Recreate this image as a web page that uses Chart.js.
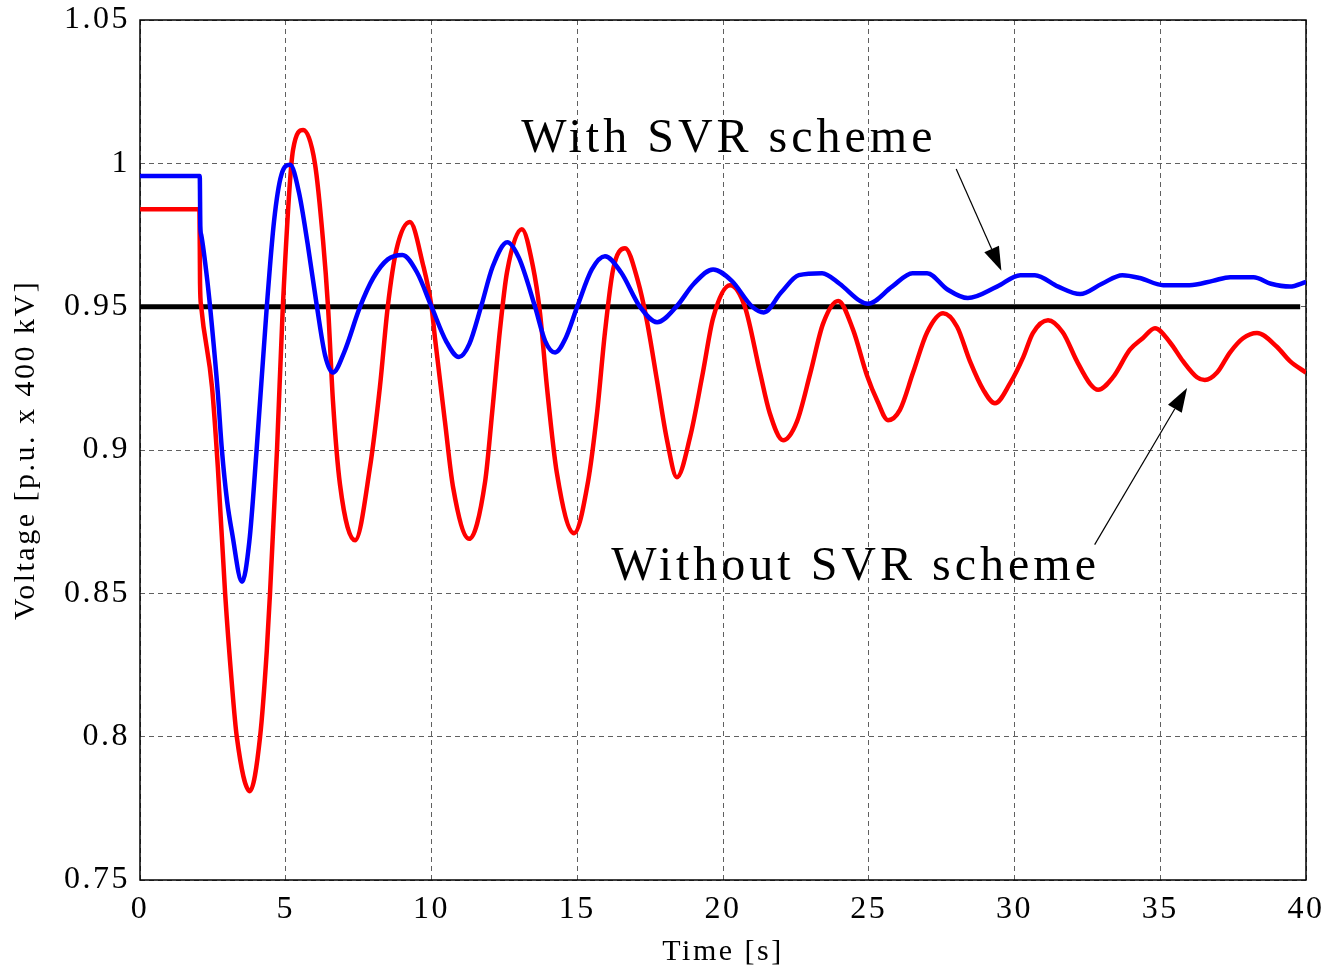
<!DOCTYPE html>
<html>
<head>
<meta charset="utf-8">
<title>Voltage with / without SVR scheme</title>
<script src="https://cdn.jsdelivr.net/npm/chart.js@4.4.1/dist/chart.umd.min.js"></script>
<style>
  html, body { margin: 0; padding: 0; background: #fff; }
  #wrap { width: 1328px; height: 972px; }
</style>
</head>
<body>
<div id="wrap"><canvas id="voltChart"></canvas></div>
<script>
// --- data ---
// with SVR scheme (blue)
const withTime = [0, 2.05, 2.07, 2.1, 2.31, 2.47, 2.67, 2.81, 2.99, 3.16, 3.5, 3.75, 4.0, 4.35, 4.6, 4.85,
  5.15, 5.45, 5.75, 6.07, 6.35, 6.62, 7.0, 7.55, 8.0, 8.5, 9.0, 9.5, 10.0, 10.5, 10.94, 11.3, 11.7,
  12.1, 12.6, 13.0, 13.55, 13.9, 14.24, 14.6, 15.0, 15.5, 15.95, 16.5, 17.15, 17.74, 18.4, 19.0,
  19.66, 20.3, 21.0, 21.4, 22.0, 22.6, 23.4, 24.0, 24.7, 24.97, 25.8, 26.5, 27.0, 27.7, 28.4, 29.4,
  30.2, 30.7, 31.5, 32.25, 33.0, 33.7, 34.3, 35.1, 36.0, 36.8, 37.4, 38.2, 38.8, 39.45, 40];
const withVolt = [0.9956, 0.9956, 0.978, 0.975, 0.959, 0.943, 0.92, 0.9, 0.882, 0.871, 0.854, 0.868, 0.9,
  0.95, 0.98, 0.996, 0.9995, 0.99, 0.972, 0.95, 0.933, 0.927, 0.934, 0.95, 0.96, 0.9665, 0.968,
  0.962, 0.95, 0.938, 0.9324, 0.937, 0.95, 0.964, 0.9725, 0.967, 0.95, 0.938, 0.934, 0.939, 0.95,
  0.963, 0.9676, 0.962, 0.95, 0.9446, 0.95, 0.958, 0.963, 0.959, 0.95, 0.948, 0.955, 0.961, 0.9617,
  0.958, 0.952, 0.951, 0.957, 0.9617, 0.9617, 0.956, 0.953, 0.957, 0.961, 0.961, 0.957, 0.9544,
  0.958, 0.961, 0.96, 0.9575, 0.9575, 0.959, 0.9603, 0.9603, 0.958, 0.957, 0.9586];

// without SVR scheme (red)
const withoutTime = [0, 2.04, 2.06, 2.1, 2.47, 2.67, 2.92, 3.15, 3.32, 3.77, 4.12, 4.35, 4.46, 4.7, 4.9,
  5.25, 5.6, 6.0, 6.28, 6.45, 6.62, 6.86, 7.38, 7.89, 8.23, 8.5, 8.8, 9.26, 9.7, 10.0, 10.12, 10.46,
  10.74, 11.29, 11.84, 12.08, 12.35, 12.59, 13.1, 13.48, 13.72, 13.96, 14.3, 14.89, 15.37, 15.68,
  15.95, 16.23, 16.64, 17.08, 17.39, 17.74, 18.08, 18.42, 18.87, 19.31, 19.66, 20.24, 20.75, 21.27,
  21.6, 22.06, 22.54, 23.0, 23.43, 23.95, 24.46, 24.94, 25.3, 25.66, 26.07, 26.52, 27.0, 27.55,
  28.03, 28.47, 28.93, 29.33, 29.85, 30.3, 30.63, 31.15, 31.66, 32.14, 32.6, 32.87, 33.38, 33.96,
  34.4, 34.82, 35.33, 35.78, 36.26, 36.53, 36.95, 37.39, 37.84, 38.32, 39.0, 39.45, 40];
const withoutVolt = [0.984, 0.984, 0.958, 0.95, 0.922, 0.894, 0.85, 0.8186, 0.8, 0.781, 0.8, 0.83, 0.85,
  0.9, 0.95, 1.0047, 1.0116, 1.0, 0.973, 0.95, 0.917, 0.888, 0.8685, 0.894, 0.922, 0.95, 0.97,
  0.9795, 0.965, 0.95, 0.939, 0.91, 0.887, 0.869, 0.889, 0.913, 0.942, 0.962, 0.977, 0.964, 0.948,
  0.922, 0.892, 0.871, 0.889, 0.913, 0.941, 0.963, 0.9704, 0.959, 0.945, 0.924, 0.9034, 0.8905,
  0.9045, 0.927, 0.946, 0.9575, 0.95, 0.927, 0.913, 0.9034, 0.91, 0.927, 0.944, 0.952, 0.942, 0.926,
  0.917, 0.9104, 0.914, 0.927, 0.941, 0.9477, 0.943, 0.931, 0.921, 0.9163, 0.9233, 0.9324, 0.9408,
  0.9453, 0.941, 0.931, 0.923, 0.921, 0.9254, 0.935, 0.939, 0.9425, 0.9376, 0.931, 0.9254, 0.9244,
  0.927, 0.934, 0.939, 0.9408, 0.936, 0.931, 0.927];

// reference level (black)
const refTime = [0, 39.8];
const refVolt = [0.95, 0.95];

// axis ticks
const xTicks = [0, 5, 10, 15, 20, 25, 30, 35, 40];
const yTicks = [0.75, 0.8, 0.85, 0.9, 0.95, 1, 1.05];

// labels + arrows (in data units: [time, voltage]); label point = centre of baseline
const labelWith = { text: 'With SVR scheme', at: [20.2, 1.0040] };
const labelWithout = { text: 'Without SVR scheme', at: [24.55, 0.8547] };
const arrowWith = { from: [28.0, 0.9980], to: [29.55, 0.9625] };
const arrowWithout = { from: [32.75, 0.8670], to: [35.92, 0.9216] };

const pts = (xs, ys) => xs.map((x, i) => ({ x: x, y: ys[i] }));

const serif = '"Liberation Serif", "Times New Roman", serif';

// full black frame, labels and arrows
const decorPlugin = {
  id: 'decor',
  beforeDraw(chart) {
    // the original figure has loosely spaced axis text
    chart.ctx.letterSpacing = '2.5px';
  },
  beforeDatasetsDraw(chart) {
    const a = chart.chartArea;
    const ctx = chart.ctx;
    ctx.save();
    ctx.strokeStyle = '#000';
    ctx.lineWidth = 1.5;
    ctx.strokeRect(a.left, a.top, a.right - a.left, a.bottom - a.top);
    ctx.restore();
  },
  afterDatasetsDraw(chart) {
    const ctx = chart.ctx;
    const xs = chart.scales.x, ys = chart.scales.y;
    const px = p => [xs.getPixelForValue(p[0]), ys.getPixelForValue(p[1])];

    ctx.save();
    ctx.fillStyle = '#000';
    ctx.font = '48px ' + serif;
    ctx.textAlign = 'center';
    ctx.textBaseline = 'alphabetic';
    ctx.letterSpacing = '4px';
    [labelWith, labelWithout].forEach(l => {
      const p = px(l.at);
      ctx.fillText(l.text, p[0], p[1]);
    });

    ctx.letterSpacing = '0px';
    ctx.strokeStyle = '#000';
    ctx.lineWidth = 1.2;
    [arrowWith, arrowWithout].forEach(ar => {
      const f = px(ar.from), t = px(ar.to);
      const ang = Math.atan2(t[1] - f[1], t[0] - f[0]);
      const len = 24, half = 8;
      const bx = t[0] - len * Math.cos(ang), by = t[1] - len * Math.sin(ang);
      ctx.beginPath();
      ctx.moveTo(f[0], f[1]);
      ctx.lineTo(bx, by);
      ctx.stroke();
      ctx.beginPath();
      ctx.moveTo(t[0], t[1]);
      ctx.lineTo(bx + half * Math.sin(ang), by - half * Math.cos(ang));
      ctx.lineTo(bx - half * Math.sin(ang), by + half * Math.cos(ang));
      ctx.closePath();
      ctx.fill();
    });
    ctx.restore();
  }
};

new Chart(document.getElementById('voltChart').getContext('2d'), {
  type: 'line',
  data: {
    datasets: [
      {
        label: 'Reference',
        data: pts(refTime, refVolt),
        borderColor: '#000',
        borderWidth: 5,
        pointRadius: 0,
        order: 3
      },
      {
        label: 'Without SVR scheme',
        data: pts(withoutTime, withoutVolt),
        borderColor: '#ff0000',
        borderWidth: 4.5,
        pointRadius: 0,
        cubicInterpolationMode: 'monotone',
        order: 2
      },
      {
        label: 'With SVR scheme',
        data: pts(withTime, withVolt),
        borderColor: '#0000ff',
        borderWidth: 4.5,
        pointRadius: 0,
        cubicInterpolationMode: 'monotone',
        order: 1
      }
    ]
  },
  options: {
    responsive: true,
    maintainAspectRatio: false,
    animation: false,
    layout: { padding: { top: 20, right: 22, left: 0, bottom: 0 } },
    plugins: {
      legend: { display: false },
      tooltip: { enabled: false }
    },
    scales: {
      x: {
        type: 'linear',
        min: 0,
        max: 40,
        afterBuildTicks: s => { s.ticks = xTicks.map(v => ({ value: v })); },
        afterFit: s => { s.height = 92; s.paddingLeft = 0; s.paddingRight = 0; },
        grid: { color: '#606060', lineWidth: 1, drawTicks: false },
        border: { display: false, dash: [5, 4] },
        ticks: { color: '#000', font: { family: serif, size: 32 }, padding: 10, maxRotation: 0 },
        title: { display: true, text: 'Time [s]', color: '#000', font: { family: serif, size: 30 }, padding: { top: 0, bottom: 2 } }
      },
      y: {
        type: 'linear',
        min: 0.75,
        max: 1.05,
        afterBuildTicks: s => { s.ticks = yTicks.map(v => ({ value: v })); },
        afterFit: s => { s.width = 140; s.paddingTop = 0; s.paddingBottom = 0; },
        grid: { color: '#606060', lineWidth: 1, drawTicks: false },
        border: { display: false, dash: [5, 4] },
        ticks: { color: '#000', font: { family: serif, size: 32 }, padding: 10, callback: v => String(Number(v.toFixed(2))) },
        title: { display: true, text: 'Voltage [p.u. x 400 kV]', color: '#000', font: { family: serif, size: 30 }, padding: { top: 8, bottom: 0 } }
      }
    }
  },
  plugins: [decorPlugin]
});
</script>
</body>
</html>
